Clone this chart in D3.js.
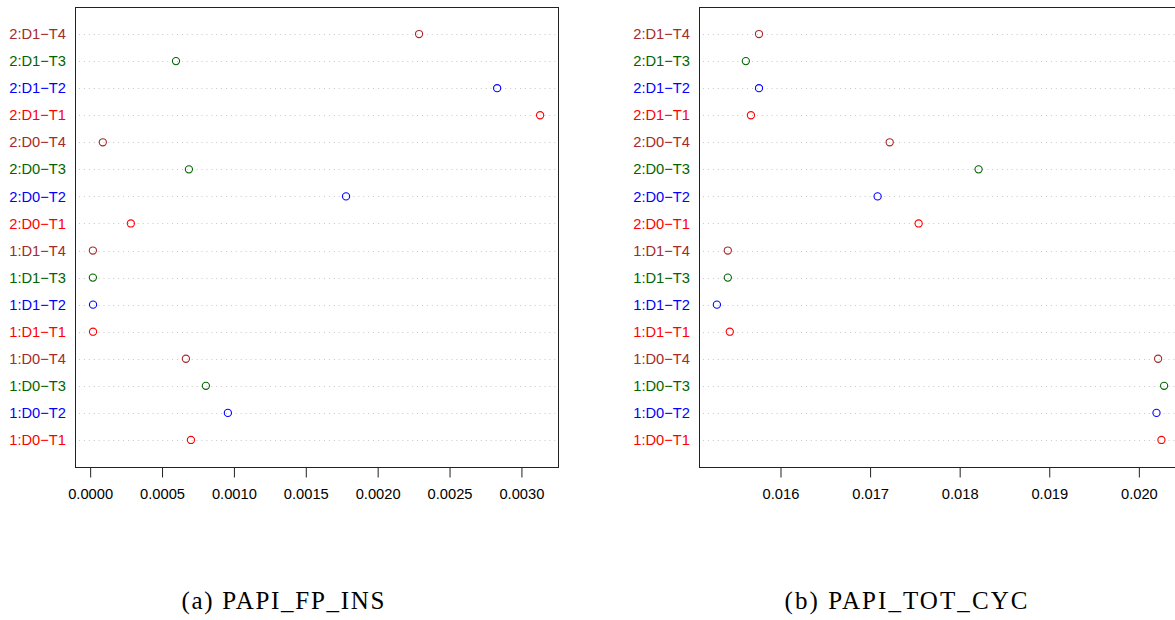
<!DOCTYPE html>
<html>
<head>
<meta charset="utf-8">
<script src="https://cdn.jsdelivr.net/npm/d3@7"></script>
<style>
  body { margin: 0; background: #fff; }
  svg { display: block; }
</style>
</head>
<body>
<div id="chart"></div>
<script>
// Row labels, bottom row first (as R's dotchart stacks them)
let labels = [
  "1:D0\u2212T1", "1:D0\u2212T2", "1:D0\u2212T3", "1:D0\u2212T4",
  "1:D1\u2212T1", "1:D1\u2212T2", "1:D1\u2212T3", "1:D1\u2212T4",
  "2:D0\u2212T1", "2:D0\u2212T2", "2:D0\u2212T3", "2:D0\u2212T4",
  "2:D1\u2212T1", "2:D1\u2212T2", "2:D1\u2212T3", "2:D1\u2212T4"
];

// Thread index for each row (T1..T4) -> picks the colour
let threads = [1, 2, 3, 4, 1, 2, 3, 4, 1, 2, 3, 4, 1, 2, 3, 4];

// PAPI_FP_INS values, same order as labels
let fpIns = [
  0.000701, 0.000958, 0.000805, 0.000666,
  0.000020, 0.000020, 0.000019, 0.000019,
  0.000283, 0.001780, 0.000687, 0.000088,
  0.003130, 0.002831, 0.000597, 0.002288
];

// PAPI_TOT_CYC values, same order as labels
let totCyc = [
  0.020252, 0.020197, 0.020282, 0.020215,
  0.015434, 0.015290, 0.015412, 0.015412,
  0.017542, 0.017084, 0.018211, 0.017219,
  0.015670, 0.015760, 0.015613, 0.015760
];

let fpTicks = [0, 0.0005, 0.0010, 0.0015, 0.0020, 0.0025, 0.0030];
let cycTicks = [0.016, 0.017, 0.018, 0.019, 0.020];

let captions = ["(a) PAPI_FP_INS", "(b) PAPI_TOT_CYC"];

// colours per thread
let threadColor = { 1: "#ff0000", 2: "#0000ff", 3: "#006400", 4: "#a52a2a" };

let svgWidth = 1175, svgHeight = 620;

let svg = d3.select('#chart')
            .append('svg')
            .attr('width', svgWidth)
            .attr('height', svgHeight)
            .style('font-family', '"Liberation Sans", Arial, sans-serif');

// Panel layout
let panels = [
  { left: 75, width: 483, values: fpIns, ticks: fpTicks, fmt: d3.format(".4f"), capX: 283, capW: 203 },
  { left: 699, width: 483, values: totCyc, ticks: cycTicks, fmt: d3.format(".3f"), capX: 906, capW: 243 }
];
let plotTop = 7, plotBottom = 467;

panels.forEach((p, pi) => {
    let g = svg.append('g');

    // x range expanded 4% like R
    let ext = d3.extent(p.values);
    let pad = (ext[1] - ext[0]) * 0.04;
    let xScale = d3.scaleLinear()
                   .domain([ext[0] - pad, ext[1] + pad])
                   .range([p.left, p.left + p.width]);
    let yScale = d3.scaleLinear()
                   .domain([0, labels.length + 1])
                   .range([plotBottom, plotTop]);

    // dotted guide lines
    g.selectAll('line.guide')
        .data(labels)
        .enter()
        .append('line')
        .attr('class', 'guide')
        .attr('x1', p.left + 4)
        .attr('x2', p.left + p.width)
        .attr('y1', (d, i) => Math.round(yScale(i + 1)) + 0.5)
        .attr('y2', (d, i) => Math.round(yScale(i + 1)) + 0.5)
        .attr('stroke', '#c8c8c8')
        .attr('stroke-width', 1)
        .attr('stroke-dasharray', '1,3.9');

    // row labels
    g.selectAll('text.lab')
        .data(labels)
        .enter()
        .append('text')
        .attr('class', 'lab')
        .attr('x', p.left - 9)
        .attr('y', (d, i) => yScale(i + 1))
        .attr('dy', '0.35em')
        .attr('text-anchor', 'end')
        .attr('font-size', '14.7px')
        .attr('fill', (d, i) => threadColor[threads[i]])
        .text(d => d);

    // points
    g.selectAll('circle')
        .data(p.values)
        .enter()
        .append('circle')
        .attr('cx', d => xScale(d))
        .attr('cy', (d, i) => yScale(i + 1))
        .attr('r', 3.6)
        .attr('fill', 'none')
        .attr('stroke', (d, i) => threadColor[threads[i]])
        .attr('stroke-width', 1.1);

    // box
    g.append('rect')
        .attr('x', p.left + 0.5)
        .attr('y', plotTop + 0.5)
        .attr('width', p.width)
        .attr('height', plotBottom - plotTop)
        .attr('fill', 'none')
        .attr('stroke', '#222')
        .attr('stroke-width', 1);

    // bottom axis
    let xAxis = d3.axisBottom(xScale)
                  .tickValues(p.ticks)
                  .tickFormat(p.fmt)
                  .tickSize(10)
                  .tickPadding(11);
    let ax = g.append('g')
        .attr('transform', `translate(0, ${plotBottom + 0.5})`)
        .call(xAxis);
    ax.select('.domain')
        .attr('d', `M${xScale(p.ticks[0])},0H${xScale(p.ticks[p.ticks.length - 1])}`)
        .attr('stroke', '#222');
    ax.selectAll('.tick line').attr('stroke', '#222');
    ax.selectAll('.tick text')
        .attr('font-size', '14.7px')
        .attr('font-family', '"Liberation Sans", Arial, sans-serif')
        .attr('fill', '#000');

    // caption
    svg.append('text')
        .attr('x', p.capX)
        .attr('y', 609)
        .attr('text-anchor', 'middle')
        .attr('font-family', '"Liberation Serif", "DejaVu Serif", serif')
        .attr('font-size', '25px')
        .attr('textLength', p.capW)
        .attr('lengthAdjust', 'spacing')
        .attr('fill', '#000')
        .text(captions[pi]);
});
</script>
</body>
</html>
